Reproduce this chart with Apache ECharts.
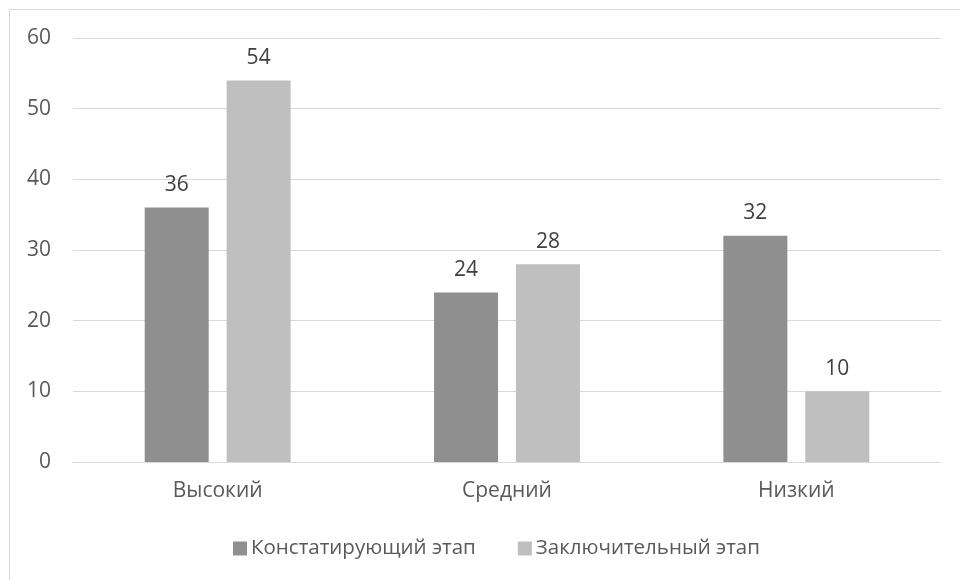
<!DOCTYPE html>
<html>
<head>
<meta charset="utf-8">
<script src="https://cdn.jsdelivr.net/npm/echarts@6/dist/echarts.min.js"></script>
<style>
  html, body { margin: 0; padding: 0; background: #ffffff; }
  #chart { width: 960px; height: 580px; }
</style>
</head>
<body>
<div id="chart"></div>
<script>
const categories = ['Высокий', 'Средний', 'Низкий'];
const seriesNames = ['Констатирующий этап', 'Заключительный этап'];
const initialStage = [36, 24, 32];
const finalStage = [54, 28, 10];
const yTicks = { min: 0, max: 60, interval: 10 };

const textColor = '#595959';
const fontFamily = '"Open Sans", "Noto Sans", sans-serif';

const chart = echarts.init(document.getElementById('chart'));

const labelStyle = {
  show: true,
  position: 'top',
  distance: 12,
  color: '#404040',
  fontSize: 21,
  fontFamily: fontFamily
};

chart.setOption({
  animation: false,
  textStyle: { fontFamily: fontFamily },
  grid: { left: 73, right: 19, top: 38, bottom: 118, containLabel: false },
  graphic: [
    {
      type: 'polyline',
      shape: { points: [[9.5, 580], [9.5, 9.5], [960, 9.5]] },
      style: { stroke: '#d9d9d9', fill: null, lineWidth: 1 }
    }
  ],
  legend: {
    top: 533,
    left: 228,
    itemWidth: 14,
    itemHeight: 14,
    itemGap: 42,
    icon: 'rect',
    textStyle: { color: textColor, fontSize: 20.5, fontFamily: fontFamily, padding: [0, 0, 0, -1] },
    data: seriesNames
  },
  xAxis: {
    type: 'category',
    data: categories,
    axisLine: { lineStyle: { color: '#d9d9d9', width: 1 } },
    axisTick: { show: false },
    axisLabel: { color: textColor, fontSize: 21, margin: 19, fontFamily: fontFamily }
  },
  yAxis: {
    type: 'value',
    min: yTicks.min,
    max: yTicks.max,
    interval: yTicks.interval,
    axisLine: { show: false },
    axisTick: { show: false },
    splitLine: { lineStyle: { color: '#d9d9d9', width: 1 } },
    axisLabel: { color: textColor, fontSize: 21, margin: 22, fontFamily: fontFamily }
  },
  series: [
    {
      name: seriesNames[0],
      type: 'bar',
      data: initialStage,
      barWidth: 64,
      barGap: '28%',
      itemStyle: { color: '#8f8f8f' },
      label: labelStyle
    },
    {
      name: seriesNames[1],
      type: 'bar',
      data: finalStage,
      barWidth: 64,
      barGap: '28%',
      itemStyle: { color: '#bfbfbf' },
      label: labelStyle
    }
  ]
});
</script>
</body>
</html>
